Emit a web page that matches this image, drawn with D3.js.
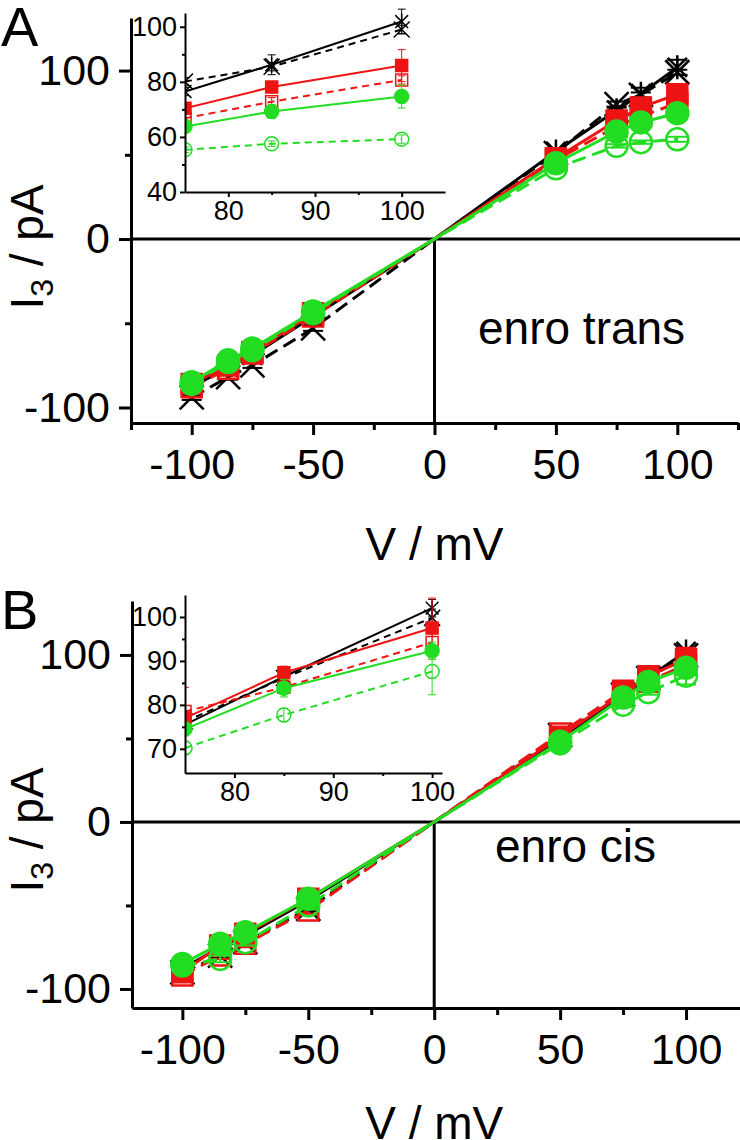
<!DOCTYPE html>
<html>
<head>
<meta charset="utf-8">
<title>enro I-V</title>
<script src="https://cdn.jsdelivr.net/npm/d3@7"></script>
<style>
body { margin: 0; background: #fff; }
svg text { font-family: "Liberation Sans", Arial, sans-serif; fill: #000; }
</style>
</head>
<body>
<div id="viz"></div>
<script>
// voltages (mV)
var voltages = [-100, -85, -75, -50, 0, 50, 75, 85, 100];

// panel A - enro trans, I3 (pA)
var transBlackSolid = [-88, -76, -69, -46, 0, 52, 76.5, 86.2, 101.9];
var transBlackDash  = [-94, -82, -75, -53, 0, 51, 80.1, 85.5, 99.0];
var transRedSolid   = [-86, -75, -67, -44, 0, 48, 70.4, 78.1, 85.9];
var transRedDash    = [-88, -77, -68, -46, 0, 47, 66.8, 72.8, 80.7];
var transGreenSolid = [-85, -72, -65, -43, 0, 45, 63.8, 69.2, 74.7];
var transGreenDash  = [-86, -73, -66, -44, 0, 42, 55.3, 57.5, 59.2];

var transBlackSolidErr = [2, 2, 2, 1.5, 0, 2, 1.5, 3.6, 4.5];
var transBlackDashErr  = [1.5, 1.5, 1.5, 1.5, 0, 1.5, 1.5, 1.5, 1.5];
var transRedSolidErr   = [2, 2, 1.5, 1.5, 0, 2, 1.5, 2, 5.8];
var transRedDashErr    = [1.5, 1.5, 1.5, 1.5, 0, 1.5, 1.5, 1.5, 1.5];
var transGreenSolidErr = [2, 2, 2, 1.5, 0, 2, 1.5, 2.5, 4.2];
var transGreenDashErr  = [1.5, 1.5, 1.5, 1.5, 0, 1.5, 1, 1, 1.5];

// panel B - enro cis
var cisBlackSolid = [-88, -75, -68, -47, 0, 50, 75.5, 86.4, 102.0];
var cisBlackDash  = [-90, -80, -72, -52, 0, 52, 76.2, 86.1, 99.8];
var cisRedSolid   = [-90, -74, -67, -46, 0, 51, 77.0, 87.3, 97.5];
var cisRedDash    = [-92, -80, -73, -53, 0, 53, 78.5, 84.0, 94.2];
var cisGreenSolid = [-85, -73, -66, -46, 0, 48, 74.5, 83.8, 92.3];
var cisGreenDash  = [-86, -82, -72, -50, 0, 47, 70.2, 77.7, 87.6];

var cisBlackSolidErr = [2, 2, 2, 1.5, 0, 1.5, 1.5, 1.5, 2];
var cisBlackDashErr  = [1.5, 1.5, 1.5, 1.5, 0, 1.5, 1.5, 1.5, 2];
var cisRedSolidErr   = [2, 2, 2, 2, 0, 1.5, 1.5, 1.5, 6.8];
var cisRedDashErr    = [2, 2, 2, 2, 0, 1.5, 5.5, 1.5, 2];
var cisGreenSolidErr = [1.5, 1.5, 1.5, 1.5, 0, 1.5, 1.5, 2, 2];
var cisGreenDashErr  = [2, 2, 2, 2, 0, 1.5, 1.5, 1.5, 5.3];

// tick labels
var xTicksMajor = [-100, -50, 0, 50, 100];
var xTicksMinor = [-125, -75, -25, 25, 75, 125];
var yTicksMajor = [-100, 0, 100];
var yTicksMinor = [-50, 50];
var insetAxTicks = [80, 90, 100], insetAxMinor = [85, 95];
var insetAyTicks = [40, 60, 80, 100], insetAyMinor = [50, 70, 90];
var insetBxTicks = [80, 90, 100], insetBxMinor = [85, 95];
var insetByTicks = [70, 80, 90, 100], insetByMinor = [75, 85, 95];

// series styles (draw order)
var red = "#ee1414", green = "#22dd22";
var styles = [
  {color: "#000", dashed: false, marker: "asterisk", filled: false},
  {color: "#000", dashed: true,  marker: "x",        filled: false},
  {color: red,    dashed: false, marker: "square",   filled: true},
  {color: red,    dashed: true,  marker: "square",   filled: false},
  {color: green,  dashed: false, marker: "circle",   filled: true},
  {color: green,  dashed: true,  marker: "circle",   filled: false}
];

var transSeries = [transBlackSolid, transBlackDash, transRedSolid, transRedDash, transGreenSolid, transGreenDash];
var transErrors = [transBlackSolidErr, transBlackDashErr, transRedSolidErr, transRedDashErr, transGreenSolidErr, transGreenDashErr];
var cisSeries = [cisBlackSolid, cisBlackDash, cisRedSolid, cisRedDash, cisGreenSolid, cisGreenDash];
var cisErrors = [cisBlackSolidErr, cisBlackDashErr, cisRedSolidErr, cisRedDashErr, cisGreenSolidErr, cisGreenDashErr];

var svg = d3.select("#viz").append("svg")
    .attr("width", 740)
    .attr("height", 1140);

var clipCount = 0;

function markerPath(type, r) {
  if (type === "circle") return "M" + r + ",0A" + r + "," + r + " 0 1 1 " + (-r) + ",0A" + r + "," + r + " 0 1 1 " + r + ",0Z";
  if (type === "square") return "M" + (-r) + "," + (-r) + "H" + r + "V" + r + "H" + (-r) + "Z";
  if (type === "x") return "M" + (-r) + "," + (-r) + "L" + r + "," + r + "M" + (-r) + "," + r + "L" + r + "," + (-r);
  // asterisk: vertical + two diagonals
  var d = r * 0.8;
  return "M0," + (-r) + "V" + r + "M" + (-d) + "," + (-d) + "L" + d + "," + d + "M" + (-d) + "," + d + "L" + d + "," + (-d);
}

function styleAxis(sel, size, width) {
  sel.selectAll("path, line").attr("stroke", "#000").attr("stroke-width", width);
  sel.selectAll("text").attr("font-size", size).attr("font-family", "Liberation Sans, Arial, sans-serif");
}

function drawSeries(g, x, y, series, errors, o) {
  series.forEach(function(vals, i) {
    var st = styles[i];
    var pts = voltages.map(function(v, j) { return {v: v, i: vals[j], e: errors[i][j]}; })
      .filter(function(d) { return d.v >= o.minV; });

    g.append("path")
      .datum(pts)
      .attr("fill", "none")
      .attr("stroke", st.color)
      .attr("stroke-width", o.lineW)
      .attr("stroke-dasharray", st.dashed ? o.dash : null)
      .attr("d", d3.line().x(function(d) { return x(d.v); }).y(function(d) { return y(d.i); }));

    var m = pts.filter(function(d) { return d.v !== 0; });

    g.selectAll(null).data(m).enter().append("path")
      .attr("transform", function(d) { return "translate(" + x(d.v) + "," + y(d.i) + ")"; })
      .attr("d", markerPath(st.marker, st.marker === "square" ? o.sq : (st.marker === "circle" ? o.r : o.star)))
      .attr("fill", st.filled ? st.color : "none")
      .attr("stroke", st.color)
      .attr("stroke-width", o.markW);

    var eb = g.selectAll(null).data(m.filter(function(d) { return d.e > 0; })).enter().append("g")
      .attr("stroke", st.color)
      .attr("stroke-width", o.errW);
    eb.append("line")
      .attr("x1", function(d) { return x(d.v); }).attr("x2", function(d) { return x(d.v); })
      .attr("y1", function(d) { return y(d.i - d.e); }).attr("y2", function(d) { return y(d.i + d.e); });
    eb.append("line")
      .attr("x1", function(d) { return x(d.v) - o.cap; }).attr("x2", function(d) { return x(d.v) + o.cap; })
      .attr("y1", function(d) { return y(d.i + d.e); }).attr("y2", function(d) { return y(d.i + d.e); });
    eb.append("line")
      .attr("x1", function(d) { return x(d.v) - o.cap; }).attr("x2", function(d) { return x(d.v) + o.cap; })
      .attr("y1", function(d) { return y(d.i - d.e); }).attr("y2", function(d) { return y(d.i - d.e); });
  });
}

function mainPanel(p) {
  var x = d3.scaleLinear().domain(p.xDomain).range(p.xRange);
  var y = d3.scaleLinear().domain(p.yDomain).range(p.yRange);
  var g = svg.append("g");
  var inX = function(v) { return v >= p.xDomain[0] && v <= p.xDomain[1]; };

  // zero lines
  g.append("line")
      .attr("x1", p.xRange[0]).attr("x2", 740)
      .attr("y1", y(0)).attr("y2", y(0))
      .attr("stroke", "#000").attr("stroke-width", 3);
  g.append("line")
      .attr("x1", x(0)).attr("x2", x(0))
      .attr("y1", y(0)).attr("y2", p.yRange[0])
      .attr("stroke", "#000").attr("stroke-width", 3);

  drawSeries(g, x, y, p.series, p.errors,
    {minV: -1000, lineW: 3, dash: "14,7", r: 11, sq: 10, star: 12, markW: 2.5, errW: 2, cap: 10});

  g.append("g")
      .attr("transform", "translate(" + p.xRange[0] + ",0)")
      .call(d3.axisLeft(y).tickValues(yTicksMajor).tickSize(12).tickPadding(9).tickSizeOuter(0)
        .tickFormat(function(d) { return d; }))
      .call(styleAxis, 43, 3);
  g.append("g")
      .attr("transform", "translate(" + p.xRange[0] + ",0)")
      .call(d3.axisLeft(y).tickValues(yTicksMinor).tickSize(6).tickFormat(""))
      .call(function(s) { s.select(".domain").remove(); })
      .call(styleAxis, 43, 3);
  g.append("g")
      .attr("transform", "translate(0," + p.yRange[0] + ")")
      .call(d3.axisBottom(x).tickValues(xTicksMajor.filter(inX)).tickSize(12).tickPadding(13).tickSizeOuter(0)
        .tickFormat(function(d) { return d; }))
      .call(styleAxis, 43, 3);
  g.append("g")
      .attr("transform", "translate(0," + p.yRange[0] + ")")
      .call(d3.axisBottom(x).tickValues(xTicksMinor.filter(inX)).tickSize(7).tickFormat(""))
      .call(function(s) { s.select(".domain").remove(); })
      .call(styleAxis, 43, 3);

  // titles
  var yt = g.append("text")
      .attr("transform", "translate(43," + p.yTitleY + ") rotate(-90)")
      .attr("text-anchor", "middle")
      .attr("font-size", 46);
  yt.append("tspan").text("I");
  yt.append("tspan").attr("font-size", 32).attr("dy", 10).text("3");
  yt.append("tspan").attr("dy", -10).text(" / pA");

  g.append("text")
      .attr("x", x(0)).attr("y", p.xTitleY)
      .attr("text-anchor", "middle")
      .attr("font-size", 46)
      .text("V / mV");

  g.append("text")
      .attr("x", p.noteX).attr("y", p.noteY)
      .attr("font-size", 46)
      .text(p.note);

  g.append("text")
      .attr("x", 1).attr("y", p.letterY)
      .attr("font-size", 56)
      .text(p.letter);
}

function insetPanel(p) {
  var x = d3.scaleLinear().domain(p.xDomain).range(p.xRange);
  var y = d3.scaleLinear().domain(p.yDomain).range(p.yRange);
  var id = "clip" + (clipCount++);
  svg.append("clipPath").attr("id", id).append("rect")
      .attr("x", p.xRange[0]).attr("y", p.yRange[1] - 12)
      .attr("width", p.xRange[1] - p.xRange[0] + 10).attr("height", p.yRange[0] - p.yRange[1] + 12);
  var g = svg.append("g");
  var d = g.append("g").attr("clip-path", "url(#" + id + ")");

  drawSeries(d, x, y, p.series, p.errors,
    {minV: 75, lineW: 2, dash: "7,5", r: 7, sq: 6, star: 8, markW: 1.5, errW: 1, cap: 4});

  g.append("g")
      .attr("transform", "translate(" + p.xRange[0] + ",0)")
      .call(d3.axisLeft(y).tickValues(p.yTicks).tickSize(5).tickPadding(3).tickSizeOuter(0))
      .call(styleAxis, 27, 2);
  g.append("g")
      .attr("transform", "translate(" + p.xRange[0] + ",0)")
      .call(d3.axisLeft(y).tickValues(p.yMinor).tickSize(3).tickFormat(""))
      .call(function(s) { s.select(".domain").remove(); })
      .call(styleAxis, 27, 2);
  g.append("g")
      .attr("transform", "translate(0," + p.yRange[0] + ")")
      .call(d3.axisBottom(x).tickValues(p.xTicks).tickSize(5).tickPadding(4).tickSizeOuter(0))
      .call(styleAxis, 27, 2);
  g.append("g")
      .attr("transform", "translate(0," + p.yRange[0] + ")")
      .call(d3.axisBottom(x).tickValues(p.xMinor).tickSize(3).tickFormat(""))
      .call(function(s) { s.select(".domain").remove(); })
      .call(styleAxis, 27, 2);
}

mainPanel({
  xDomain: [-125, 125], xRange: [131, 738],
  yDomain: [-109.2, 131.2], yRange: [423, 18],
  series: transSeries, errors: transErrors,
  yTitleY: 247, xTitleY: 560,
  note: "enro trans", noteX: 478, noteY: 344,
  letter: "A", letterY: 46
});
insetPanel({
  xDomain: [75, 105], xRange: [185, 445],
  yDomain: [40, 105], yRange: [192, 13],
  xTicks: insetAxTicks, xMinor: insetAxMinor,
  yTicks: insetAyTicks, yMinor: insetAyMinor,
  series: transSeries, errors: transErrors
});

mainPanel({
  xDomain: [-120, 125], xRange: [132, 749],
  yDomain: [-111.4, 132.3], yRange: [1008, 601],
  series: cisSeries, errors: cisErrors,
  yTitleY: 830, xTitleY: 1139,
  note: "enro cis", noteX: 495, noteY: 862,
  letter: "B", letterY: 629
});
insetPanel({
  xDomain: [75, 101], xRange: [185, 442],
  yDomain: [64.5, 105], yRange: [773, 595],
  xTicks: insetBxTicks, xMinor: insetBxMinor,
  yTicks: insetByTicks, yMinor: insetByMinor,
  series: cisSeries, errors: cisErrors
});
</script>
</body>
</html>
